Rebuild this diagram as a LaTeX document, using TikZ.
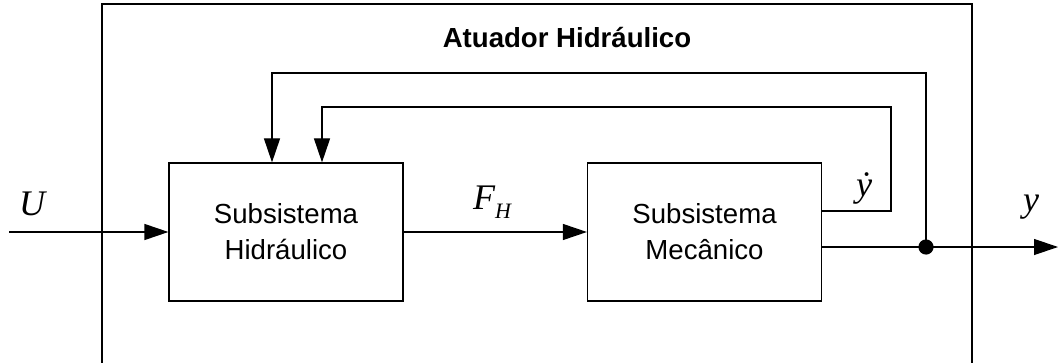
\documentclass[tikz,border=0pt]{standalone}
\usepackage{fontspec}
\setmainfont{Liberation Serif}
\newfontfamily\blocksans{Liberation Sans}
\usetikzlibrary{arrows.meta,calc,positioning}
\tikzset{
  blockbox/.style={draw,line width=0.6pt,minimum width=117pt,minimum height=69pt,
    inner sep=0pt,align=center,font=\blocksans\fontsize{13.8}{18}\selectfont},
  sigarrow/.style={draw,line width=0.6pt,-{Triangle[length=12pt,width=8pt]}},
  siglabel/.style={font=\fontsize{18}{20}\selectfont\itshape}
}
\begin{document}
\begin{tikzpicture}[x=0.5pt,y=-0.5pt]
    \useasboundingbox (0,0) rectangle (1058,363);
    % frame of the actuator
    \draw[line width=0.6pt] (102,363) -- (102,4) -- (972,4) -- (972,363);
    \node[font=\blocksans\bfseries\fontsize{13.8}{16}\selectfont] (title) at (567,38) {Atuador Hidráulico};
    \node[blockbox] (hidr) at (286,232) {Subsistema\\Hidráulico};
    \node[blockbox] (mec) at (704.5,232) {Subsistema\\Mecânico};
    \coordinate (uin) at (9,232);
    \coordinate (yout) at (1058,247);
    \coordinate (split) at (926,247);
    \coordinate (fb1) at (926,73);
    \coordinate (fb2) at (891,107);
    \draw[sigarrow] (uin) -- (hidr.west);
    \draw[sigarrow] (hidr.east) -- (mec.west);
    \draw[sigarrow] ([yshift=-7.5pt]mec.east) -- (yout);
    \draw[sigarrow] (split) -- (fb1) -| ([xshift=-7pt]hidr.north);
    \draw[sigarrow] ([yshift=10.5pt]mec.east) -| (fb2) -| ([xshift=18pt]hidr.north);
    \fill (split) circle (3.8pt);
    \node[siglabel] (lu) at (32,204) {U};
    \node[siglabel] (lf) at (492,202) {F\raisebox{-0.55ex}{\fontsize{11}{12}\selectfont H}};
    \node[siglabel] (lyd) at (864,188) {ẏ};
    \node[siglabel] (ly) at (1031,207) {y};
  \end{tikzpicture}
\end{document}
